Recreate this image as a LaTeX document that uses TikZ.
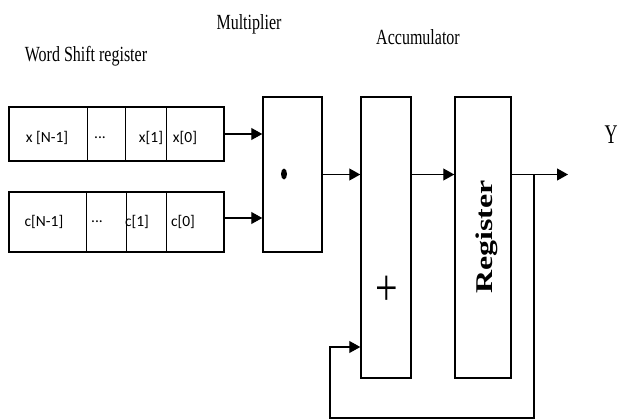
\documentclass[tikz,border=0pt]{standalone}
\usepackage{fontspec}
\setmainfont{Liberation Serif}
\newfontfamily\cellfont{Carlito}
\usetikzlibrary{arrows.meta}

\begin{document}
\begin{tikzpicture}[x=1pt,y=-1pt,
  blk/.style={draw,line width=1.5pt,inner sep=0pt},
  arr/.style={line width=1.1pt,-{Triangle[length=11pt,width=12pt]}},
  lbl/.style={font=\fontsize{16}{18}\selectfont},
  cell/.style={font=\cellfont\fontsize{15.5}{17}\selectfont}]
\useasboundingbox (0,0) rectangle (618,420);

% titles
\node[lbl] (wsrlbl) at (86,56) {\scalebox{1}[1.35]{Word Shift register}};
\node[lbl] (multlbl) at (249,24) {\scalebox{1}[1.35]{Multiplier}};
\node[lbl] (acclbl) at (418,37) {\scalebox{1}[1.35]{Accumulator}};

% shift registers
\node[blk,minimum width=215pt,minimum height=54pt] (xreg) at (116.5,134) {};
\node[blk,minimum width=215pt,minimum height=60pt] (creg) at (116.5,222) {};
\foreach \xx in {87,125,166}
  \draw[line width=0.8pt] (xreg.north -| \xx,0) -- (xreg.south -| \xx,0);
\foreach \xx in {86,126,166}
  \draw[line width=0.8pt] (creg.north -| \xx,0) -- (creg.south -| \xx,0);
\node[cell] (xn) at (47,138) {x [N-1]};
\node[cell] (xdots) at (100,138) {...};
\node[cell] (x1) at (151,138) {x[1]};
\node[cell] (x0) at (185,138) {x[0]};
\node[cell] (cn) at (44,222) {c[N-1]};
\node[cell] (cdots) at (97,222) {...};
\node[cell] (c1) at (137,222) {c[1]};
\node[cell] (c0) at (183,222) {c[0]};

% blocks
\node[blk,minimum width=59pt,minimum height=155pt] (mult) at (292.5,174.5) {};
\fill (284,174) ellipse (3 and 5.5);
\node[blk,minimum width=50pt,minimum height=281pt] (acc) at (386,237.5) {};
\node[font=\fontsize{40}{42}\selectfont] (plus) at (387,291) {\scalebox{1}[1.3]{+}};
\node[blk,minimum width=56pt,minimum height=281pt] (reg) at (483,237.5) {};
\node[rotate=90,font=\bfseries\fontsize{24}{26}\selectfont] (reglbl) at (487,237)
  {\scalebox{1.33}[1]{Register}};
\node[font=\fontsize{18}{20}\selectfont] (ylbl) at (611,135) {\scalebox{1}[1.5]{Y}};

% wires
\coordinate (tap) at (534,174.5);
\coordinate (yout) at (568,174.5);
\coordinate (fb) at (330,347);
\draw[arr] (xreg.east) -- (xreg.east -| mult.west);
\draw[arr] ([yshift=4pt]creg.east) -- ([yshift=4pt]creg.east -| mult.west);
\draw[arr] (mult.east) -- (mult.east -| acc.west);
\draw[arr] (acc.east |- mult.east) -- (mult.east -| reg.west);
\draw[arr] (reg.east |- mult.east) -- (yout);
\draw[arr] (tap) -- (tap |- 0,418) -- (fb |- 0,418) -- (fb) -- (fb -| acc.west);
\end{tikzpicture}
\end{document}
